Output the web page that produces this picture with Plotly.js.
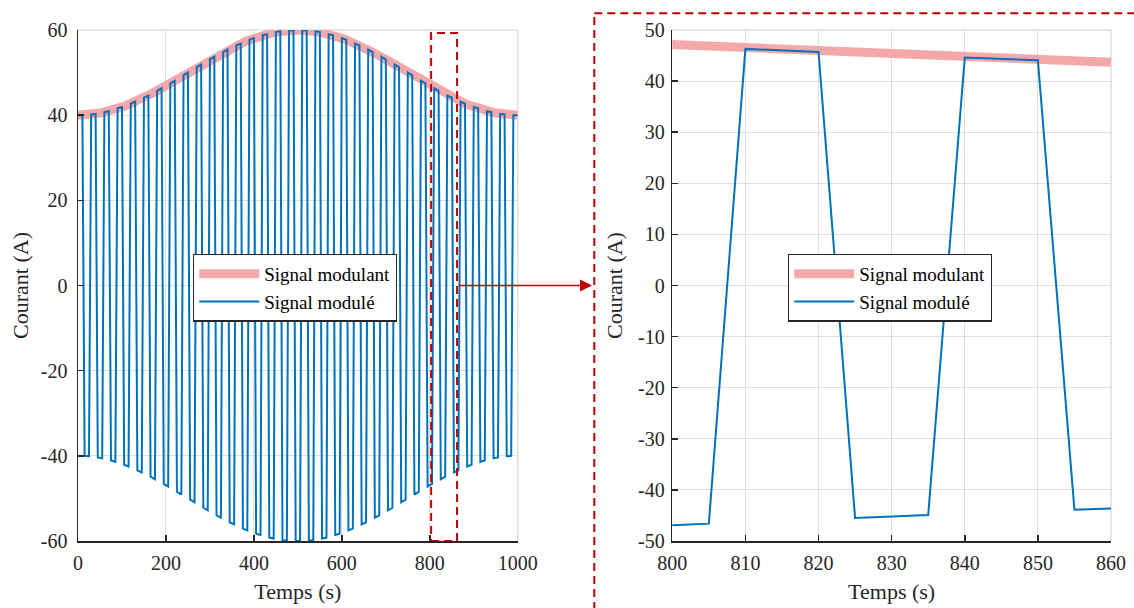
<!DOCTYPE html>
<html>
<head>
<meta charset="utf-8">
<script src="https://cdn.plot.ly/plotly-3.0.1.min.js"></script>
<style>
  html, body { margin: 0; padding: 0; background: #ffffff; }
  #chart { width: 1134px; height: 608px; }
</style>
</head>
<body>
<div id="chart"></div>
<script>
// ---- Data ----
const TIME_START = 0;   // s
const TIME_STEP = 5;    // s, sampling step

// Modulating signal (envelope), one value every 5 s from 0 to 1000 s
const signalModulant = [
  40.0, 40.0, 40.0, 40.0, 40.1, 40.1, 40.2, 40.2, 40.3, 40.4,
  40.5, 40.6, 40.7, 40.8, 40.9, 41.1, 41.2, 41.4, 41.6, 41.7,
  41.9, 42.1, 42.3, 42.5, 42.7, 42.9, 43.2, 43.4, 43.6, 43.9,
  44.1, 44.4, 44.6, 44.9, 45.2, 45.5, 45.7, 46.0, 46.3, 46.6,
  46.9, 47.2, 47.5, 47.8, 48.1, 48.4, 48.8, 49.1, 49.4, 49.7,
  50.0, 50.3, 50.6, 50.9, 51.3, 51.6, 51.9, 52.2, 52.5, 52.8,
  53.1, 53.4, 53.7, 54.0, 54.3, 54.5, 54.8, 55.1, 55.4, 55.6,
  55.9, 56.1, 56.4, 56.6, 56.8, 57.1, 57.3, 57.5, 57.7, 57.9,
  58.1, 58.3, 58.4, 58.6, 58.8, 58.9, 59.0, 59.2, 59.3, 59.4,
  59.5, 59.6, 59.7, 59.8, 59.8, 59.9, 59.9, 60.0, 60.0, 60.0,
  60.0, 60.0, 60.0, 60.0, 59.9, 59.9, 59.8, 59.8, 59.7, 59.6,
  59.5, 59.4, 59.3, 59.2, 59.0, 58.9, 58.8, 58.6, 58.4, 58.3,
  58.1, 57.9, 57.7, 57.5, 57.3, 57.1, 56.8, 56.6, 56.4, 56.1,
  55.9, 55.6, 55.4, 55.1, 54.8, 54.5, 54.3, 54.0, 53.7, 53.4,
  53.1, 52.8, 52.5, 52.2, 51.9, 51.6, 51.3, 50.9, 50.6, 50.3,
  50.0, 49.7, 49.4, 49.1, 48.8, 48.4, 48.1, 47.8, 47.5, 47.2,
  46.9, 46.6, 46.3, 46.0, 45.7, 45.5, 45.2, 44.9, 44.6, 44.4,
  44.1, 43.9, 43.6, 43.4, 43.2, 42.9, 42.7, 42.5, 42.3, 42.1,
  41.9, 41.7, 41.6, 41.4, 41.2, 41.1, 40.9, 40.8, 40.7, 40.6,
  40.5, 40.4, 40.3, 40.2, 40.2, 40.1, 40.1, 40.0, 40.0, 40.0,
  40.0
];

// Modulated signal, one value every 5 s from 0 to 1000 s (30 s period)
const signalModule = [
  40.0, 40.0, 40.0, -40.0, -40.1, -40.1,
  40.2, 40.2, 40.3, -40.4, -40.5, -40.6,
  40.7, 40.8, 40.9, -41.1, -41.2, -41.4,
  41.6, 41.7, 41.9, -42.1, -42.3, -42.5,
  42.7, 42.9, 43.2, -43.4, -43.6, -43.9,
  44.1, 44.4, 44.6, -44.9, -45.2, -45.5,
  45.7, 46.0, 46.3, -46.6, -46.9, -47.2,
  47.5, 47.8, 48.1, -48.4, -48.8, -49.1,
  49.4, 49.7, 50.0, -50.3, -50.6, -50.9,
  51.3, 51.6, 51.9, -52.2, -52.5, -52.8,
  53.1, 53.4, 53.7, -54.0, -54.3, -54.5,
  54.8, 55.1, 55.4, -55.6, -55.9, -56.1,
  56.4, 56.6, 56.8, -57.1, -57.3, -57.5,
  57.7, 57.9, 58.1, -58.3, -58.4, -58.6,
  58.8, 58.9, 59.0, -59.2, -59.3, -59.4,
  59.5, 59.6, 59.7, -59.8, -59.8, -59.9,
  59.9, 60.0, 60.0, -60.0, -60.0, -60.0,
  60.0, 60.0, 59.9, -59.9, -59.8, -59.8,
  59.7, 59.6, 59.5, -59.4, -59.3, -59.2,
  59.0, 58.9, 58.8, -58.6, -58.4, -58.3,
  58.1, 57.9, 57.7, -57.5, -57.3, -57.1,
  56.8, 56.6, 56.4, -56.1, -55.9, -55.6,
  55.4, 55.1, 54.8, -54.5, -54.3, -54.0,
  53.7, 53.4, 53.1, -52.8, -52.5, -52.2,
  51.9, 51.6, 51.3, -50.9, -50.6, -50.3,
  50.0, 49.7, 49.4, -49.1, -48.8, -48.4,
  48.1, 47.8, 47.5, -47.2, -46.9, -46.6,
  46.3, 46.0, 45.7, -45.5, -45.2, -44.9,
  44.6, 44.4, 44.1, -43.9, -43.6, -43.4,
  43.2, 42.9, 42.7, -42.5, -42.3, -42.1,
  41.9, 41.7, 41.6, -41.4, -41.2, -41.1,
  40.9, 40.8, 40.7, -40.6, -40.5, -40.4,
  40.3, 40.2, 40.2, -40.1, -40.1, -40.0,
  40.0, 40.0, 40.0
];

const seriesNames = ["Signal modulant", "Signal modulé"];

// Tick labels
const leftXTicks = [0, 200, 400, 600, 800, 1000];
const leftXLabels = ["0", "200", "400", "600", "800", "1000"];
const leftYTicks = [-60, -40, -20, 0, 20, 40, 60];
const leftYLabels = ["-60", "-40", "-20", "0", "20", "40", "60"];
const rightXTicks = [800, 810, 820, 830, 840, 850, 860];
const rightXLabels = ["800", "810", "820", "830", "840", "850", "860"];
const rightYTicks = [-50, -40, -30, -20, -10, 0, 10, 20, 30, 40, 50];
const rightYLabels = ["-50", "-40", "-30", "-20", "-10", "0", "10", "20", "30", "40", "50"];

const xTitle = "Temps (s)";
const yTitle = "Courant (A)";

// ---- Styles ----
const FONT = "Liberation Serif";
const DARK = "#262626";
const GRID = "#dfdfdf";
const PINK = "rgb(245,168,170)";
const BLUE = "#0072BD";
const RED = "#C00000";

function makeTraces(xa, ya, legendId) {
  return [
    {
      type: "scatter", mode: "lines",
      x0: TIME_START, dx: TIME_STEP, y: signalModulant,
      xaxis: xa, yaxis: ya, name: seriesNames[0], legend: legendId,
      line: { color: PINK, width: 9 }, hoverinfo: "skip"
    },
    {
      type: "scatter", mode: "lines",
      x0: TIME_START, dx: TIME_STEP, y: signalModule,
      xaxis: xa, yaxis: ya, name: seriesNames[1], legend: legendId,
      line: { color: BLUE, width: 2 }, hoverinfo: "skip"
    }
  ];
}

const data = makeTraces("x", "y", "legend").concat(makeTraces("x2", "y2", "legend2"));

function axisBase(extra) {
  return Object.assign({
    showline: true, linecolor: DARK, linewidth: 1.5,
    ticks: "inside", ticklen: 6, tickwidth: 1.5, tickcolor: DARK,
    showgrid: true, gridcolor: GRID, gridwidth: 1,
    zeroline: false, fixedrange: true,
    tickfont: { family: FONT, size: 20, color: DARK },
    tickmode: "array"
  }, extra);
}

const legendBase = {
  font: { family: FONT, size: 19, color: "#000000" },
  bgcolor: "#ffffff", bordercolor: DARK, borderwidth: 1.3,
  itemwidth: 60, xanchor: "left", yanchor: "top",
  tracegroupgap: 0, itemclick: false, itemdoubleclick: false
};

const layout = {
  width: 1134, height: 608,
  margin: { l: 78, r: 23, t: 30, b: 67 },
  paper_bgcolor: "#ffffff", plot_bgcolor: "#ffffff",
  showlegend: true,
  font: { family: FONT, color: DARK },
  xaxis: axisBase({
    domain: [0, 0.4257], anchor: "y", range: [0, 1000],
    tickvals: leftXTicks, ticktext: leftXLabels, ticklabelstandoff: 3,
    title: { text: xTitle, font: { family: FONT, size: 22, color: DARK }, standoff: 11 }
  }),
  yaxis: axisBase({
    domain: [0, 1], anchor: "x", range: [-60, 60],
    tickvals: leftYTicks, ticktext: leftYLabels, ticklabelstandoff: 5,
    title: { text: yTitle, font: { family: FONT, size: 22, color: DARK }, standoff: 6 }
  }),
  xaxis2: axisBase({
    domain: [0.5753, 1], anchor: "y2", range: [800, 860],
    tickvals: rightXTicks, ticktext: rightXLabels, ticklabelstandoff: 3,
    title: { text: xTitle, font: { family: FONT, size: 22, color: DARK }, standoff: 11 }
  }),
  yaxis2: axisBase({
    domain: [0, 1], anchor: "x2", range: [-50, 50],
    tickvals: rightYTicks, ticktext: rightYLabels, ticklabelstandoff: 2,
    title: { text: yTitle, font: { family: FONT, size: 22, color: DARK }, standoff: 9 }
  }),
  legend: Object.assign({}, legendBase, { x: 0.1113, y: 0.5625 }),
  legend2: Object.assign({}, legendBase, { x: 0.6873, y: 0.5625 }),
  shapes: [
    // light top/right borders of each axes box
    { type: "line", xref: "x domain", yref: "y domain", x0: 0, x1: 1, y0: 1, y1: 1, line: { color: GRID, width: 1.5 }, layer: "below" },
    { type: "line", xref: "x domain", yref: "y domain", x0: 1, x1: 1, y0: 0, y1: 1, line: { color: GRID, width: 1.5 }, layer: "below" },
    { type: "line", xref: "x2 domain", yref: "y2 domain", x0: 0, x1: 1, y0: 1, y1: 1, line: { color: GRID, width: 1.5 }, layer: "below" },
    { type: "line", xref: "x2 domain", yref: "y2 domain", x0: 1, x1: 1, y0: 0, y1: 1, line: { color: GRID, width: 1.5 }, layer: "below" },
    // zoom window on the left plot
    { type: "rect", xref: "x", yref: "y", x0: 803, x1: 862, y0: -60, y1: 59.3,
      line: { color: RED, width: 2, dash: "8px,5px" }, fillcolor: "rgba(0,0,0,0)" },
    // big dashed frame around the zoom plot
    { type: "line", xref: "paper", yref: "paper", x0: 0.4998, x1: 0.4998, y0: -0.135, y1: 1.0327,
      line: { color: RED, width: 2, dash: "8px,5px" } },
    { type: "line", xref: "paper", yref: "paper", x0: 0.4998, x1: 1.03, y0: 1.0327, y1: 1.0327,
      line: { color: RED, width: 2, dash: "8px,5px" } }
  ],
  annotations: [
    { xref: "paper", yref: "y", x: 0.4976, y: 0, ax: -134, ay: 0, axref: "pixel", ayref: "pixel",
      text: "", showarrow: true, arrowhead: 2, arrowsize: 1.6, arrowwidth: 1.5, arrowcolor: RED, standoff: 0 }
  ]
};

Plotly.newPlot("chart", data, layout, { displayModeBar: false, staticPlot: true });
</script>
</body>
</html>
